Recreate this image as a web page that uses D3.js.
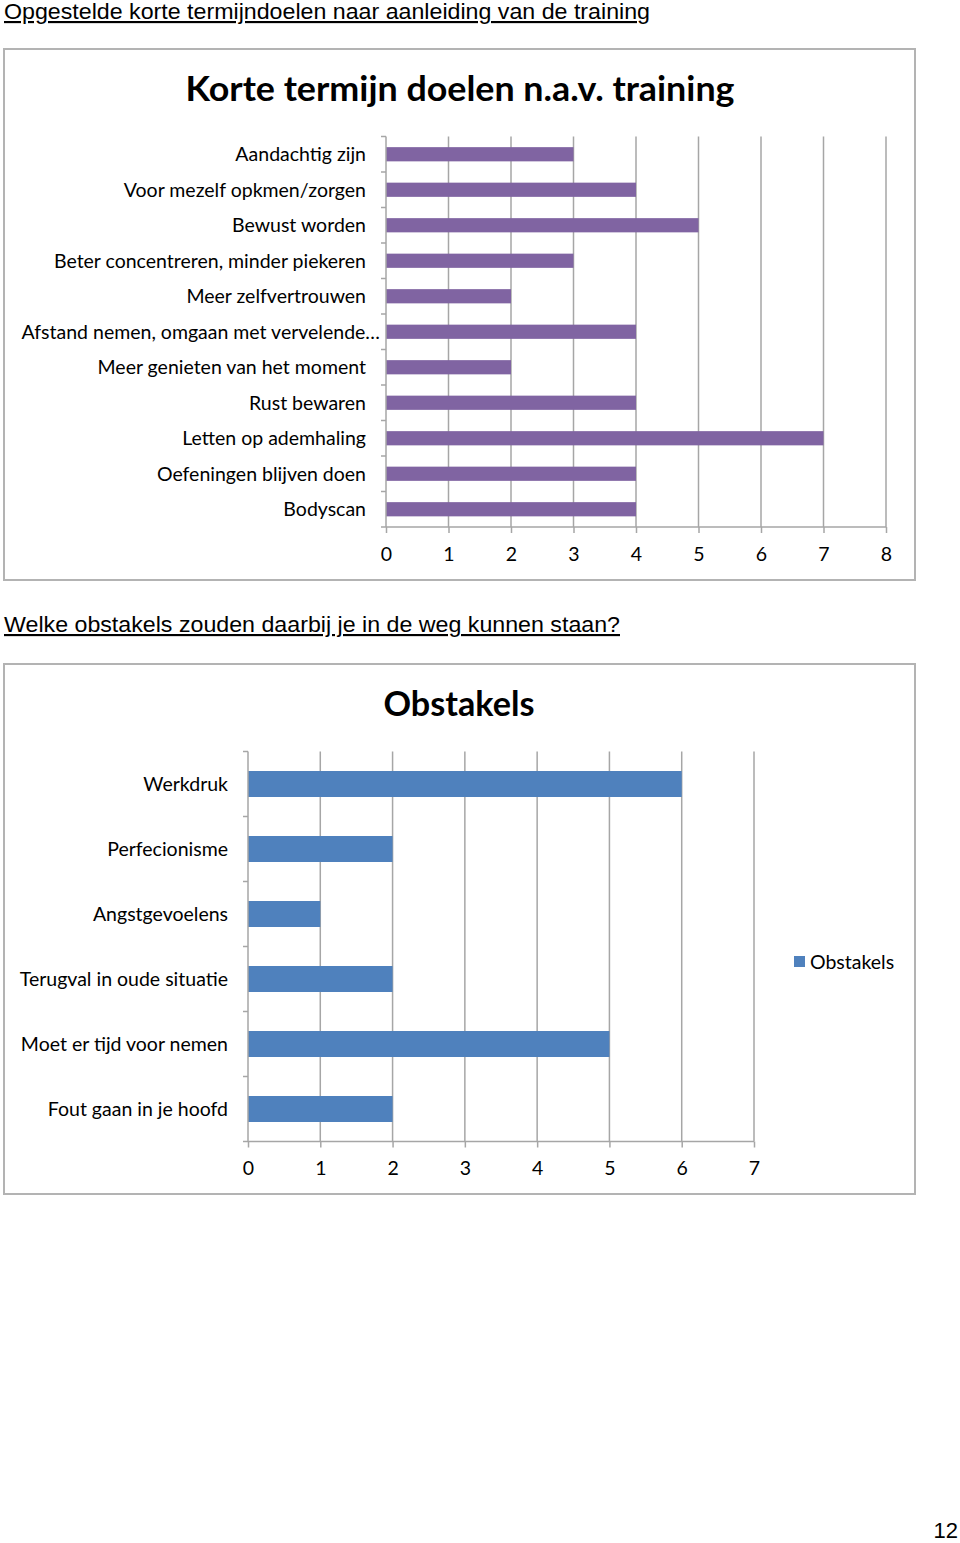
<!DOCTYPE html>
<html>
<head>
<meta charset="utf-8">
<script src="https://cdn.jsdelivr.net/npm/d3@7"></script>
<style>
  body { margin: 0; background: #fff; }
  svg { display: block; }
  .heading { font-family: "Liberation Sans", Arial, sans-serif; font-size: 21.5px; text-decoration: underline; }
  .ctitle { font-family: Lato, Calibri, sans-serif; font-weight: bold; font-size: 35px; }
  .lab { font-family: Lato, Calibri, sans-serif; font-size: 19.5px; fill: #000; }
</style>
</head>
<body>
<svg id="page" width="960" height="1543"></svg>
<script>
// chart 1: korte termijn doelen
var goalCats = ["Aandachtig zijn", "Voor mezelf opkmen/zorgen", "Bewust worden",
    "Beter concentreren, minder piekeren", "Meer zelfvertrouwen",
    "Afstand nemen, omgaan met vervelende…", "Meer genieten van het moment",
    "Rust bewaren", "Letten op ademhaling", "Oefeningen blijven doen", "Bodyscan"];
var goalVals = [3, 4, 5, 3, 2, 4, 2, 4, 7, 4, 4];
var goalTicks = [0, 1, 2, 3, 4, 5, 6, 7, 8];

// chart 2: obstakels
var obsCats = ["Werkdruk", "Perfecionisme", "Angstgevoelens", "Terugval in oude situatie",
    "Moet er tijd voor nemen", "Fout gaan in je hoofd"];
var obsVals = [6, 2, 1, 2, 5, 2];
var obsTicks = [0, 1, 2, 3, 4, 5, 6, 7];

var svg = d3.select("#page");

function heading(txt, y, len) {
    svg.append("text").attr("class", "heading")
        .attr("x", 4).attr("y", y)
        .attr("textLength", len).attr("lengthAdjust", "spacingAndGlyphs")
        .text(txt);
}

function drawChart(o) {
    var g = svg.append("g");
    g.append("rect")
        .attr("x", o.box[0]).attr("y", o.box[1])
        .attr("width", o.box[2]).attr("height", o.box[3])
        .attr("fill", "#fff").attr("stroke", "#b3b3b3").attr("stroke-width", 2);

    g.append("text").attr("class", "ctitle")
        .attr("x", o.titleX).attr("y", o.titleY)
        .attr("text-anchor", "middle")
        .attr("textLength", o.titleLen).attr("lengthAdjust", "spacingAndGlyphs")
        .text(o.title);

    var x = d3.scaleLinear().domain([0, d3.max(o.ticks)]).range([o.x0, o.x1]);
    var y = d3.scaleBand().domain(o.cats).range([o.y0, o.y1]).paddingInner(o.pad).paddingOuter(o.pad / 2);

    // vertical gridlines
    g.selectAll(".grid").data(o.ticks.slice(1)).enter().append("line")
        .attr("x1", function (d) { return x(d); }).attr("x2", function (d) { return x(d); })
        .attr("y1", o.y0).attr("y2", o.y1)
        .attr("stroke", "#a6a6a6").attr("stroke-width", 1.5);

    // bars
    g.selectAll(".bar").data(o.vals).enter().append("rect")
        .attr("x", x(0))
        .attr("y", function (d, i) { return y(o.cats[i]); })
        .attr("width", function (d) { return x(d) - x(0); })
        .attr("height", y.bandwidth())
        .attr("fill", o.color);

    // x axis
    var xa = g.append("g").attr("transform", "translate(0," + o.y1 + ")")
        .call(d3.axisBottom(x).tickValues(o.ticks).tickSize(6).tickPadding(14).tickFormat(d3.format("d")));
    xa.select(".domain").attr("stroke", "#a6a6a6").attr("stroke-width", 1.5)
        .attr("d", "M" + o.x0 + ",0H" + o.x1);
    xa.selectAll(".tick line").attr("stroke", "#a6a6a6").attr("stroke-width", 1.5);
    xa.selectAll(".tick text").attr("class", "lab").attr("font-family", null).attr("font-size", null);

    // y axis: category ticks at band boundaries
    var step = y.step();
    var bounds = d3.range(o.cats.length + 1).map(function (i) { return o.y0 + i * step; });
    g.selectAll(".ytick").data(bounds).enter().append("line")
        .attr("x1", o.x0 - 5).attr("x2", o.x0)
        .attr("y1", function (d) { return d; }).attr("y2", function (d) { return d; })
        .attr("stroke", "#a6a6a6").attr("stroke-width", 1.5);
    g.append("line").attr("x1", o.x0).attr("x2", o.x0).attr("y1", o.y0).attr("y2", o.y1)
        .attr("stroke", "#a6a6a6").attr("stroke-width", 1.5);

    // truncated labels (ending in …) run a bit further right, like Excel does
    g.selectAll(".ylab").data(o.cats).enter().append("text")
        .attr("class", "lab")
        .attr("x", function (d) { return d.slice(-1) === "…" ? o.labX + 14 : o.labX; })
        .attr("y", function (d) { return y(d) + y.bandwidth() / 2; })
        .attr("dy", "0.35em")
        .attr("text-anchor", "end")
        .text(function (d) { return d; });

    if (o.legend) {
        g.append("rect").attr("x", o.legend[0]).attr("y", o.legend[1] - 6)
            .attr("width", 11).attr("height", 11).attr("fill", o.color);
        g.append("text").attr("class", "lab")
            .attr("x", o.legend[0] + 16).attr("y", o.legend[1]).attr("dy", "0.35em")
            .text(o.legendText);
    }
}

heading("Opgestelde korte termijndoelen naar aanleiding van de training", 19, 646);

drawChart({
    box: [4, 49, 911, 531], title: "Korte termijn doelen n.a.v. training",
    titleX: 460, titleY: 101, titleLen: 549,
    cats: goalCats, vals: goalVals, ticks: goalTicks, color: "#8064a2",
    x0: 386, x1: 886, y0: 136.5, y1: 527, pad: 0.6, labX: 366
});

heading("Welke obstakels zouden daarbij je in de weg kunnen staan?", 632, 616);

drawChart({
    box: [4, 664, 911, 530], title: "Obstakels",
    titleX: 459, titleY: 716, titleLen: 151,
    cats: obsCats, vals: obsVals, ticks: obsTicks, color: "#4f81bd",
    x0: 248, x1: 754, y0: 751.5, y1: 1141.5, pad: 0.6, labX: 228,
    legend: [794, 962], legendText: "Obstakels"
});

svg.append("text").attr("x", 958).attr("y", 1538)
    .attr("text-anchor", "end")
    .style("font-family", "'Liberation Sans', Arial, sans-serif").style("font-size", "22px")
    .text("12");
</script>
</body>
</html>
